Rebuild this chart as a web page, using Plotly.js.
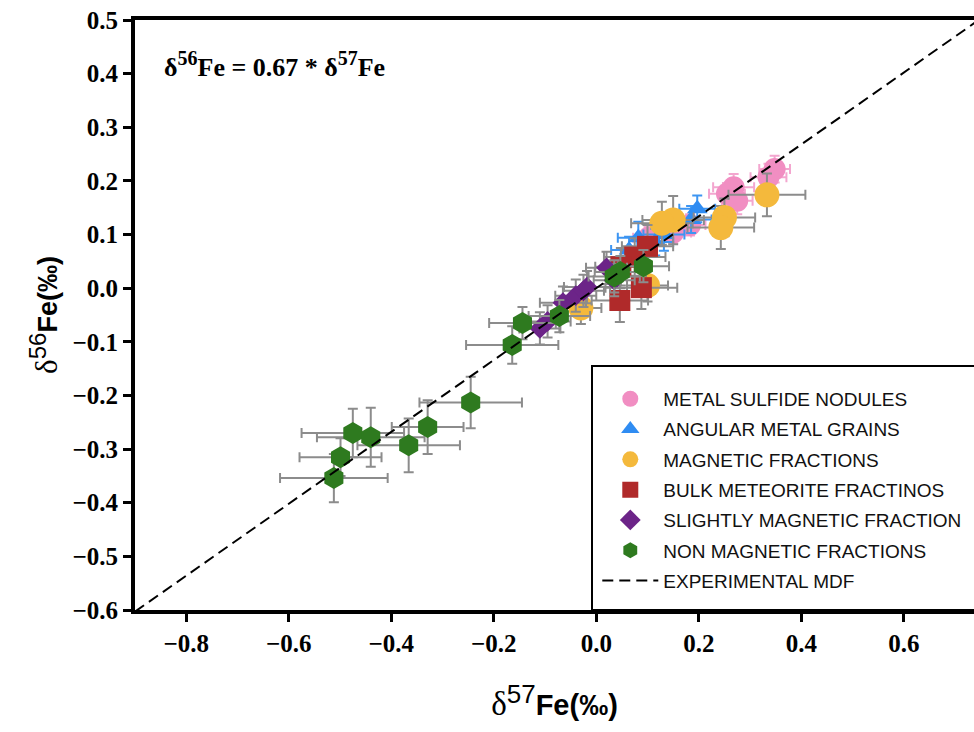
<!DOCTYPE html>
<html>
<head>
<meta charset="utf-8">
<script src="https://cdn.plot.ly/plotly-3.0.1.min.js"></script>
<style>html,body{margin:0;padding:0;background:#fff;overflow:hidden;}</style>
</head>
<body>
<div id="chart" style="width:974px;height:732px;"></div>
<script>
// ---- data ----
const seriesNames = ['METAL SULFIDE NODULES', 'ANGULAR METAL GRAINS', 'MAGNETIC FRACTIONS',
  'BULK METEORITE FRACTINOS', 'SLIGHTLY MAGNETIC FRACTION', 'NON MAGNETIC FRACTIONS'];
const mdfName = 'EXPERIMENTAL MDF';

const sulfideX  = [0.348, 0.336, 0.268, 0.255, 0.275, 0.183, 0.150, 0.102];
const sulfideY  = [0.222, 0.207, 0.188, 0.176, 0.163, 0.118, 0.104, 0.094];
const sulfideEX = [0.030, 0.035, 0.040, 0.035, 0.030, 0.030, 0.035, 0.030];
const sulfideEY = [0.025, 0.025, 0.025, 0.020, 0.025, 0.020, 0.020, 0.020];

const angularX  = [0.197, 0.185, 0.132, 0.115, 0.082, 0.064];
const angularY  = [0.148, 0.128, 0.100, 0.086, 0.094, 0.071];
const angularEX = [0.035, 0.040, 0.040, 0.035, 0.040, 0.035];
const angularEY = [0.025, 0.025, 0.030, 0.025, 0.030, 0.025];

const magneticX  = [0.333, 0.250, 0.243, 0.150, 0.128, 0.100, -0.030];
const magneticY  = [0.174, 0.132, 0.113, 0.127, 0.121, 0.005, -0.037];
const magneticEX = [0.075, 0.060, 0.065, 0.060, 0.060, 0.040, 0.040];
const magneticEY = [0.040, 0.035, 0.040, 0.045, 0.040, 0.030, 0.030];

const bulkX  = [0.100, 0.075, 0.048, 0.088, 0.046];
const bulkY  = [0.078, 0.058, 0.040, 0.001, -0.023];
const bulkEX = [0.050, 0.060, 0.050, 0.070, 0.055];
const bulkEY = [0.040, 0.035, 0.035, 0.040, 0.040];

const slightX  = [-0.110, -0.095, -0.065, -0.040, -0.025, -0.018, 0.020, 0.035];
const slightY  = [-0.075, -0.062, -0.027, -0.014, -0.005, 0.002, 0.038, 0.015];
const slightEX = [0.040, 0.045, 0.045, 0.040, 0.040, 0.045, 0.040, 0.040];
const slightEY = [0.030, 0.030, 0.030, 0.030, 0.030, 0.030, 0.030, 0.030];

const nonMagX  = [-0.512, -0.499, -0.475, -0.440, -0.366, -0.329, -0.245, -0.164, -0.144, -0.072, 0.035, 0.047, 0.092];
const nonMagY  = [-0.354, -0.315, -0.270, -0.278, -0.293, -0.259, -0.213, -0.106, -0.065, -0.052, 0.022, 0.030, 0.041];
const nonMagEX = [0.105, 0.080, 0.100, 0.105, 0.100, 0.070, 0.100, 0.090, 0.065, 0.060, 0.050, 0.050, 0.050];
const nonMagEY = [0.045, 0.035, 0.045, 0.055, 0.050, 0.050, 0.048, 0.035, 0.030, 0.030, 0.030, 0.030, 0.030];

const mdfSlope = 0.67;
const mdfX = [-0.9, 0.74];

const xTicks = [-0.8, -0.6, -0.4, -0.2, 0.0, 0.2, 0.4, 0.6];
const yTicks = [0.5, 0.4, 0.3, 0.2, 0.1, 0.0, -0.1, -0.2, -0.3, -0.4, -0.5, -0.6];

// ---- styles ----
const colors = ['#f18ec2', '#2f8cf2', '#f4b93c', '#b02a2a', '#6c2488', '#2e7a1f'];
const errColors = ['#f3a6cf', '#3d95f2', '#8c8c8c', '#8c8c8c', '#8c8c8c', '#8c8c8c'];
const symbols = ['circle', 'triangle-up', 'circle', 'square', 'diamond', 'hexagon'];
const sizes = [22, 18, 25, 21, 16, 22];

const sets = [
  [sulfideX, sulfideY, sulfideEX, sulfideEY],
  [angularX, angularY, angularEX, angularEY],
  [magneticX, magneticY, magneticEX, magneticEY],
  [bulkX, bulkY, bulkEX, bulkEY],
  [slightX, slightY, slightEX, slightEY],
  [nonMagX, nonMagY, nonMagEX, nonMagEY]
];

const traces = sets.map((s, i) => ({
  type: 'scatter', mode: 'markers', name: seriesNames[i], legendgroup: 'g' + i,
  x: s[0], y: s[1],
  error_x: {type: 'data', array: s[2], visible: true, color: errColors[i], thickness: 2, width: 5},
  error_y: {type: 'data', array: s[3], visible: true, color: errColors[i], thickness: 2, width: 5},
  marker: {color: colors[i], symbol: symbols[i], size: sizes[i], line: {width: 0}}
}));

traces.push({
  type: 'scatter', mode: 'lines', name: mdfName, legendgroup: 'mdf',
  x: mdfX, y: mdfX.map(v => v * mdfSlope),
  line: {color: '#000', width: 2, dash: '11px,6px'}
});

const serif = 'Liberation Serif, Times New Roman, serif';
const sans = 'Liberation Sans, Arial, sans-serif';

const layout = {
  width: 974, height: 732,
  margin: {l: 135, r: 0, t: 20, b: 122},
  paper_bgcolor: '#fff', plot_bgcolor: '#fff',
  showlegend: true,
  xaxis: {
    range: [-0.9, 0.737], tickvals: xTicks, tickformat: '.1f',
    showgrid: false, zeroline: false, showline: true, mirror: true,
    linecolor: '#000', linewidth: 4, ticks: 'outside', ticklen: 8, tickwidth: 3, tickcolor: '#000',
    ticklabelstandoff: 0,
    tickfont: {family: serif, size: 25, color: '#000', weight: 'bold'},
    title: {text: '<span style="font-family:Liberation Serif;font-size:33px">δ</span><sup><span style="font-size:26px">57</span></sup><b>Fe(‰)</b>',
      font: {family: sans, size: 29, color: '#000'}, standoff: 40}
  },
  yaxis: {
    range: [-0.6, 0.5], tickvals: yTicks, tickformat: '.1f', ticksuffix: '\u00a0',
    showgrid: false, zeroline: false, showline: true,
    linecolor: '#000', linewidth: 4, ticks: 'outside', ticklen: 8, tickwidth: 3, tickcolor: '#000',
    tickfont: {family: serif, size: 25, color: '#000', weight: 'bold'},
    title: {text: '<span style="font-family:Liberation Serif;font-size:31px">δ</span><sup><span style="font-size:24px">56</span></sup><b>Fe(‰)</b>',
      font: {family: sans, size: 27, color: '#000'}, standoff: 8}
  },
  legend: {
    x: 0.551, xanchor: 'left', y: 0.39, yanchor: 'top',
    bgcolor: 'rgba(0,0,0,0)', borderwidth: 0,
    font: {family: sans, size: 19, color: '#111'},
    itemwidth: 56, tracegroupgap: 2.6, traceorder: 'grouped'
  },
  shapes: [{
    type: 'rect', xref: 'paper', yref: 'paper', x0: 0.5447, x1: 1.05, y0: 0, y1: 0.4136,
    line: {color: '#000', width: 2}, fillcolor: '#fff', layer: 'below'
  }],
  annotations: [{
    xref: 'paper', yref: 'paper', x: 0.032, y: 0.924, xanchor: 'left', yanchor: 'middle',
    showarrow: false,
    text: '<b>δ<sup><span style="font-size:20px">56</span></sup>Fe = 0.67 * δ<sup><span style="font-size:20px">57</span></sup>Fe</b>',
    font: {family: serif, size: 26, color: '#000'}
  }]
};

Plotly.newPlot('chart', traces, layout, {displayModeBar: false, staticPlot: true});
</script>
</body>
</html>
